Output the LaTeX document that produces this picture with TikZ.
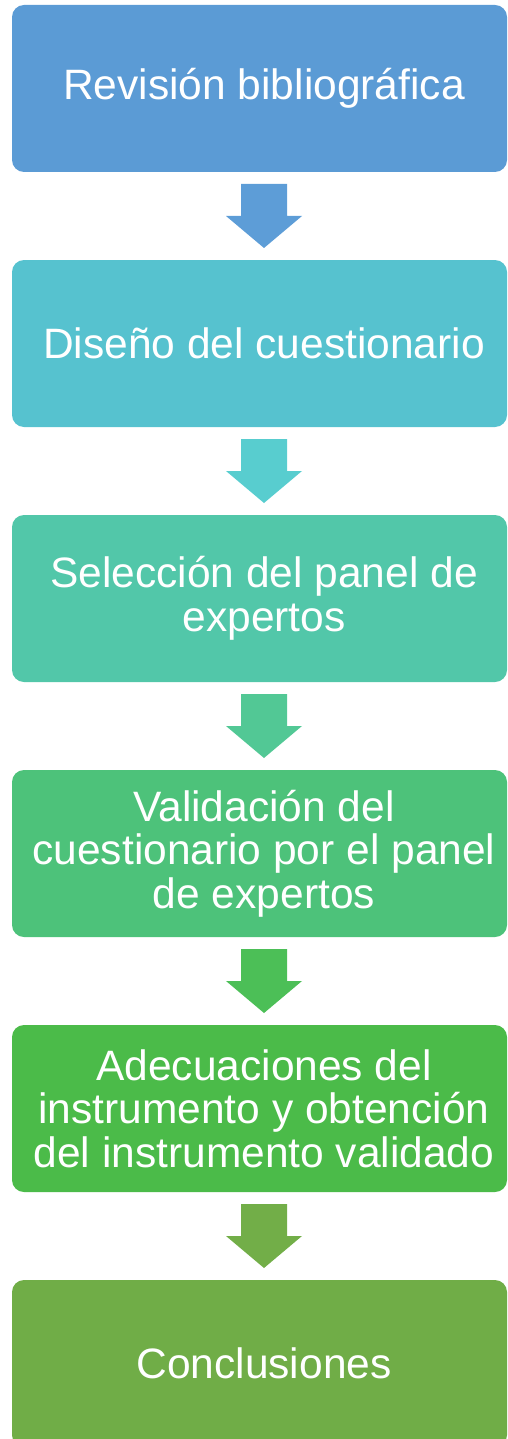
\documentclass[tikz,border=0pt]{standalone}
\usepackage{fontspec}
\setmainfont{Liberation Sans}
\usepackage{tikz}
\usetikzlibrary{positioning,calc}
\definecolor{stA}{HTML}{5B9BD5}
\definecolor{stB}{HTML}{56C2CF}
\definecolor{stC}{HTML}{52C7A9}
\definecolor{stD}{HTML}{4DC27A}
\definecolor{stE}{HTML}{4BBB49}
\definecolor{stF}{HTML}{70AD47}
\definecolor{arA}{HTML}{5D9DD7}
\definecolor{arB}{HTML}{58CDCF}
\definecolor{arC}{HTML}{52C895}
\definecolor{arD}{HTML}{4CBF57}
\definecolor{arE}{HTML}{72AE48}

\begin{document}
\begin{tikzpicture}[x=1pt,y=1pt,
  box/.style={fill=#1,rounded corners=12pt,minimum width=495pt,
              minimum height=167pt,inner sep=0pt,outer sep=0pt},
  txt/.style={text=white,align=center,inner sep=0pt,
              font=\fontsize{42.5}{43.5}\selectfont},
  node distance=88pt
]
\useasboundingbox (0,0) rectangle (507,-1439);
\clip (0,0) rectangle (507,-1439);

\node[box=stA,label={[txt,xshift=4.5pt]center:Revisión bibliográfica}] at (259.5,-88.5) (rev) {};
\node[box=stB,below=of rev,label={[txt,xshift=4.5pt]center:Diseño del cuestionario}] (dis) {};
\node[box=stC,below=of dis,label={[txt,xshift=4.5pt]center:Selección del panel de\\expertos}] (sel) {};
\node[box=stD,below=of sel,label={[txt,xshift=4.5pt]center:Validación del\\cuestionario por el panel\\de expertos}] (val) {};
\node[box=stE,below=of val,label={[txt,xshift=4.5pt]center:Adecuaciones del\\instrumento y obtención\\del instrumento validado}] (ade) {};
\node[box=stF,below=of ade,label={[txt,xshift=4.5pt]center:Conclusiones}] (con) {};

% block arrows between the steps
\foreach \a/\c in {rev/arA,dis/arB,sel/arC,val/arD,ade/arE}
  \fill[\c] ($(\a.south)+(4.5,-12)$) ++(-23,0) -- ++(46,0) -- ++(0,-32)
        -- ++(15,0) -- ++(-38,-32) -- ++(-38,32) -- ++(15,0) -- cycle;
\end{tikzpicture}
\end{document}
